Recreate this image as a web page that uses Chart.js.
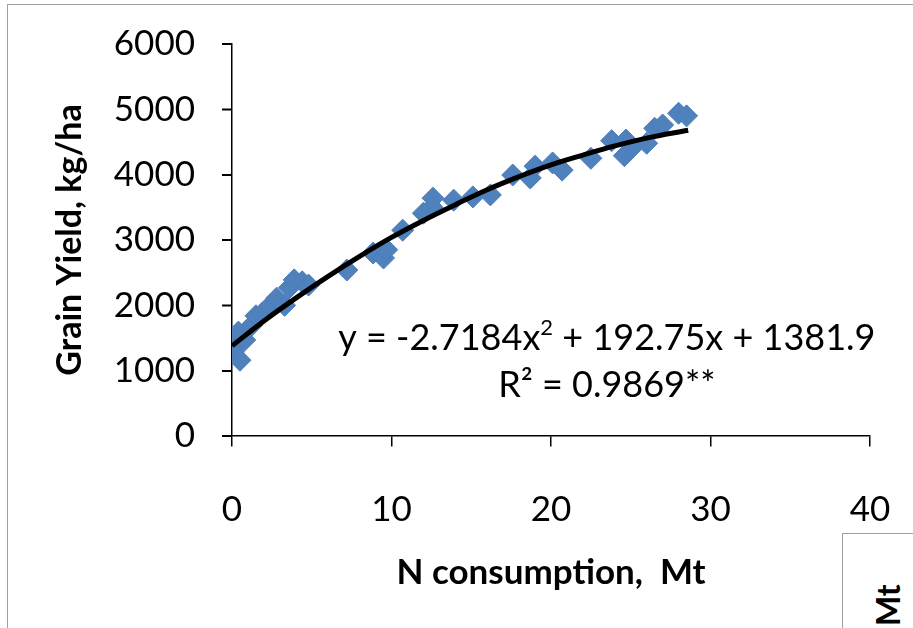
<!DOCTYPE html>
<html>
<head>
<meta charset="utf-8">
<script src="https://cdn.jsdelivr.net/npm/chart.js@4/dist/chart.umd.min.js"></script>
<style>
    html, body { margin: 0; padding: 0; background: #fff; overflow: hidden; }
    #wrap { position: relative; width: 913px; height: 628px; }
    #chart { position: absolute; left: 0; top: 0; }
    .frame { position: absolute; border-left: 1.5px solid #a0a0a0; border-top: 1.5px solid #a0a0a0; }
    #frameMain { left: 7px; top: 4px; width: 920px; height: 640px; }
    #frameSide { left: 842px; top: 533px; width: 100px; height: 120px; background: #fff; }
    #sideLabel {
        position: absolute; left: 868px; top: 626px;
        transform: rotate(-90deg); transform-origin: 0 0;
        font: bold 32px Lato, sans-serif; color: #000; white-space: nowrap;
    }
</style>
</head>
<body>
<div id="wrap">
    <div class="frame" id="frameMain"></div>
    <canvas id="chart" width="913" height="628"></canvas>
    <div class="frame" id="frameSide"></div>
    <div id="sideLabel">Mt</div>
</div>
<script>
// ====== Data ======
const nConsumption = [0.1, 0.2, 0.4, 0.5, 0.8, 1.25, 1.5, 1.9, 2.4, 2.8, 3.3, 3.6, 3.9, 4.4, 4.8,
    7.2, 8.85, 9.5, 9.7, 10.7, 12.0, 12.6, 12.55, 13.9, 15.1, 16.2, 17.6, 18.7, 19.0, 20.1,
    20.7, 22.5, 23.8, 24.6, 24.7, 25.0, 26.0, 26.5, 27.0, 28.0, 28.5];
const grainYield = [1290, 1390, 1590, 1160, 1470, 1700, 1840, 1880, 2000, 2110, 2000, 2270, 2390, 2360, 2310,
    2540, 2800, 2725, 2850, 3150, 3410, 3640, 3500, 3610, 3660, 3690, 3995, 3950, 4130, 4180,
    4070, 4250, 4520, 4290, 4530, 4390, 4480, 4710, 4760, 4940, 4900];

// trendline as drawn
const trendX = [0, 2, 4, 6, 8, 10, 12, 14, 16, 18, 20, 22, 24, 26, 28.6];
const trendY = [1380, 1760, 2110, 2440, 2750, 3040, 3300, 3540, 3770, 3970, 4150, 4300, 4440, 4560, 4680];

const xTicks = [0, 10, 20, 30, 40];
const yTicks = [0, 1000, 2000, 3000, 4000, 5000, 6000];

const eqLine1 = ['y = -2.7184x', '2', ' + 192.75x + 1381.9'];
const eqLine2 = 'R² = 0.9869**';

const FONT = 'Lato, "Open Sans", sans-serif';

// ====== Trendline equation label ======
const equationLabel = {
    id: 'equationLabel',
    afterDatasetsDraw(chart) {
        const { ctx, scales: { x, y } } = chart;
        const cx = x.getPixelForValue(23.5);
        const base = y.getPixelForValue(1320);
        ctx.save();
        ctx.fillStyle = '#000';
        ctx.textBaseline = 'alphabetic';
        const big = `36px ${FONT}`, small = `22px ${FONT}`;
        ctx.font = big;
        const w0 = ctx.measureText(eqLine1[0]).width;
        const w2 = ctx.measureText(eqLine1[2]).width;
        ctx.font = small;
        const w1 = ctx.measureText(eqLine1[1]).width;
        let px = cx - (w0 + w1 + w2) / 2;
        ctx.textAlign = 'left';
        ctx.font = big;
        ctx.fillText(eqLine1[0], px, base);
        px += w0;
        ctx.font = small;
        ctx.fillText(eqLine1[1], px, base - 15);
        px += w1;
        ctx.font = big;
        ctx.fillText(eqLine1[2], px, base);
        ctx.textAlign = 'center';
        ctx.fillText(eqLine2, cx, base + 47);
        ctx.restore();
    }
};

// ====== Outside tick marks on the value axis ======
const yTickMarks = {
    id: 'yTickMarks',
    afterDraw(chart) {
        const { ctx, scales: { y } } = chart;
        const ax = chart.chartArea.left;
        ctx.save();
        ctx.strokeStyle = '#000';
        ctx.lineWidth = 1.5;
        ctx.beginPath();
        yTicks.forEach(v => {
            const py = Math.round(y.getPixelForValue(v)) + 0.25;
            ctx.moveTo(ax - 10, py);
            ctx.lineTo(ax, py);
        });
        ctx.stroke();
        ctx.restore();
    }
};

const ctx = document.getElementById('chart').getContext('2d');
new Chart(ctx, {
    type: 'scatter',
    data: {
        datasets: [
            {
                label: 'Poly. trend',
                data: trendX.map((v, i) => ({ x: v, y: trendY[i] })),
                showLine: true,
                borderColor: '#000',
                borderWidth: 5,
                pointRadius: 0,
                tension: 0.4,
                fill: false
            },
            {
                label: 'Grain yield',
                data: nConsumption.map((v, i) => ({ x: v, y: grainYield[i] })),
                pointStyle: 'rectRot',
                pointRadius: 11,
                backgroundColor: '#4f81bd',
                borderColor: '#4a7ebb',
                borderWidth: 1
            }
        ]
    },
    options: {
        responsive: false,
        animation: false,
        layout: { padding: { left: 0, top: 44, right: 43, bottom: 0 } },
        plugins: { legend: { display: false }, tooltip: { enabled: false } },
        scales: {
            x: {
                type: 'linear', min: 0, max: 40,
                afterFit(scale) { scale.height = 192; },
                afterBuildTicks(scale) { scale.ticks = xTicks.map(v => ({ value: v })); },
                border: { color: '#000', width: 1.5 },
                // long tick length places the labels; the dash keeps the visible mark short
                grid: {
                    drawOnChartArea: false, color: '#000', tickColor: '#000', tickWidth: 1.5,
                    tickLength: 53, lineWidth: 1.5, tickBorderDash: [10, 300]
                },
                ticks: { color: '#000', padding: 0, font: { family: FONT, size: 35 }, callback: v => String(v) },
                title: {
                    display: true, text: 'N consumption,  Mt', color: '#000',
                    font: { family: FONT, size: 35, weight: 'bold' },
                    padding: { top: 0, bottom: 34 }
                }
            },
            y: {
                type: 'linear', min: 0, max: 6000,
                afterFit(scale) { scale.width = 232; },
                afterBuildTicks(scale) { scale.ticks = yTicks.map(v => ({ value: v })); },
                border: { color: '#000', width: 1.5 },
                grid: {
                    drawOnChartArea: false, color: '#000', tickColor: '#000', tickWidth: 1.5,
                    tickLength: 10, lineWidth: 1.5
                },
                // small lineHeight so the top label doesn't push the plot down
                ticks: { color: '#000', padding: 27, font: { family: FONT, size: 35, lineHeight: 0.6 }, callback: v => String(v) },
                title: {
                    display: true, text: 'Grain Yield, kg/ha', color: '#000',
                    font: { family: FONT, size: 34, weight: 'bold' },
                    padding: { top: 50, bottom: 0 }
                }
            }
        }
    },
    plugins: [equationLabel, yTickMarks]
});
</script>
</body>
</html>
